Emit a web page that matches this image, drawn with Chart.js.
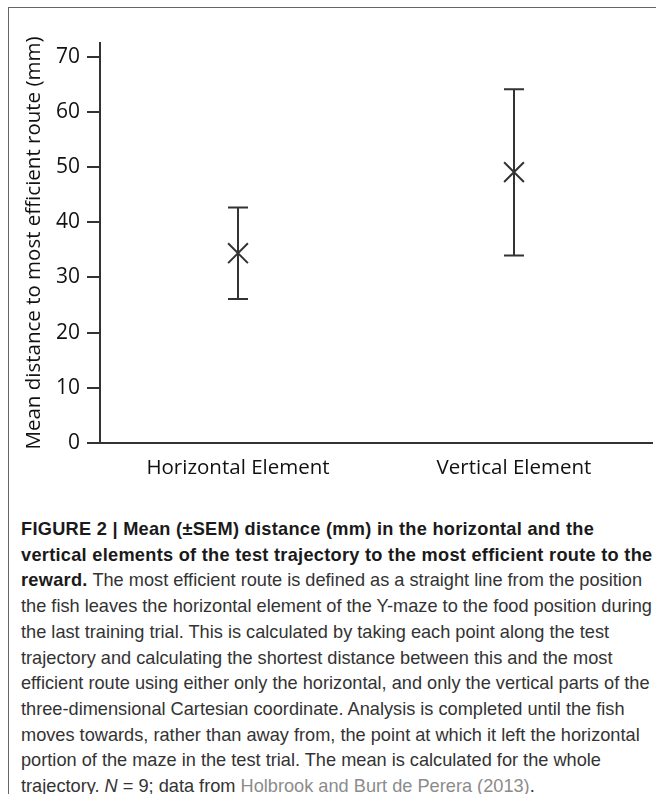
<!DOCTYPE html>
<html>
<head>
<meta charset="utf-8">
<script src="https://cdn.jsdelivr.net/npm/chart.js@4"></script>
<style>
  html, body { margin: 0; padding: 0; background: #fff; }
  body { width: 656px; height: 794px; position: relative; overflow: hidden; }
  #frame { position: absolute; left: 8px; top: 7px; width: 660px; height: 800px;
    border-left: 1px solid #666; border-top: 1px solid #666; }
  #chartBox { position: absolute; left: 0; top: 0; width: 656px; height: 500px; }
  #caption { position: absolute; left: 21px; top: 517px; font-family: "Liberation Sans", Arial, sans-serif;
    font-size: 18.2px; line-height: 25.7px; color: #333; white-space: nowrap; }
  #caption b { color: #1a1a1a; letter-spacing: 0.28px; }
  #caption .ref { color: #8c8c8c; }
</style>
</head>
<body>
<div id="frame"></div>
<div id="chartBox"><canvas id="chart"></canvas></div>
<div id="caption">
  <div><b>FIGURE 2 | Mean (±SEM) distance (mm) in the horizontal and the</b></div>
  <div><b>vertical elements of the test trajectory to the most efficient route to the</b></div>
  <div><b>reward.</b> The most efficient route is defined as a straight line from the position</div>
  <div>the fish leaves the horizontal element of the Y-maze to the food position during</div>
  <div>the last training trial. This is calculated by taking each point along the test</div>
  <div>trajectory and calculating the shortest distance between this and the most</div>
  <div>efficient route using either only the horizontal, and only the vertical parts of the</div>
  <div>three-dimensional Cartesian coordinate. Analysis is completed until the fish</div>
  <div>moves towards, rather than away from, the point at which it left the horizontal</div>
  <div>portion of the maze in the test trial. The mean is calculated for the whole</div>
  <div>trajectory. <i>N</i> = 9; data from <span class="ref">Holbrook and Burt de Perera (2013)</span>.</div>
</div>
<script>
const categories = ['Horizontal Element', 'Vertical Element']
const means = [34.4, 49.1]
const upper = [42.7, 64.1]
const lower = [26.1, 34.0]
const yTicks = [0, 10, 20, 30, 40, 50, 60, 70]

const ink = '#111'
const lineColor = '#333333'

// error bars drawn from the scale, after the points
const errorBars = {
	id: 'errorBars',
	afterDatasetsDraw(chart) {
		const ctx = chart.ctx
		const yScale = chart.scales.y
		const meta = chart.getDatasetMeta(0)
		ctx.save()
		ctx.strokeStyle = lineColor
		ctx.lineWidth = 2
		meta.data.forEach((pt, i) => {
			const x = pt.x
			const yHi = yScale.getPixelForValue(upper[i])
			const yLo = yScale.getPixelForValue(lower[i])
			ctx.beginPath()
			ctx.moveTo(x, yHi)
			ctx.lineTo(x, yLo)
			ctx.moveTo(x - 10, yHi)
			ctx.lineTo(x + 10, yHi)
			ctx.moveTo(x - 10, yLo)
			ctx.lineTo(x + 10, yLo)
			ctx.stroke()
		})
		ctx.restore()
	}
}

new Chart(document.getElementById('chart'), {
	type: 'line',
	data: {
		labels: categories,
		datasets: [{
			data: means,
			showLine: false,
			pointStyle: 'crossRot',
			pointRadius: 14,
			pointBorderWidth: 2,
			borderColor: lineColor,
			backgroundColor: lineColor
		}]
	},
	options: {
		responsive: true,
		maintainAspectRatio: false,
		animation: false,
		layout: { autoPadding: false, padding: { left: 0, right: 4, top: 43, bottom: 0 } },
		plugins: { legend: { display: false }, tooltip: { enabled: false } },
		scales: {
			x: {
				offset: true,
				afterFit(scale) { scale.height = 57 },
				grid: { display: false },
				border: { display: true, color: lineColor, width: 2 },
				ticks: { color: ink, padding: 5, font: { family: 'Open Sans', size: 20.5 } }
			},
			y: {
				min: 0,
				max: 72.5,
				afterFit(scale) { scale.width = 100 },
				afterBuildTicks(scale) { scale.ticks = yTicks.map(v => ({ value: v })) },
				grid: { drawOnChartArea: false, tickLength: 13, lineWidth: 2, color: lineColor },
				border: { display: true, color: lineColor, width: 2 },
				ticks: { color: ink, padding: 7, font: { family: 'Open Sans', size: 21 } },
				title: {
					display: true,
					text: 'Mean distance to most efficient route (mm)',
					color: ink,
					padding: { top: 22, bottom: 0 },
					font: { family: 'Open Sans', size: 20.5 }
				}
			}
		}
	},
	plugins: [errorBars]
})
</script>
</body>
</html>
